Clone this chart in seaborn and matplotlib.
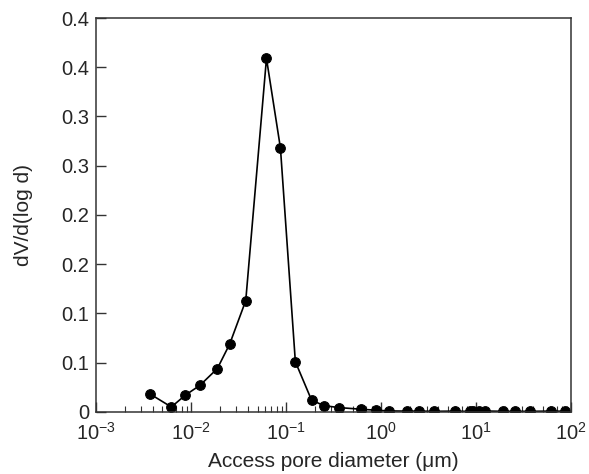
import numpy as np
import pandas as pd
import matplotlib
matplotlib.use('Agg')
import matplotlib.pyplot as plt
import seaborn as sns
from matplotlib.ticker import FixedLocator, FixedFormatter, LogLocator, NullFormatter

# pore diameter (um) and dV/d(log d)
diameter = [0.00373, 0.0062, 0.0087, 0.0124, 0.0189, 0.0255, 0.0376, 0.0621, 0.0871,
            0.125, 0.185, 0.249, 0.358, 0.617, 0.886, 1.22, 1.87, 2.49, 3.63, 5.96,
            8.5, 9.3, 10.7, 12.4, 19.1, 25.5, 36.6, 61.7, 85.1]
dvdlogd = [0.018, 0.005, 0.017, 0.027, 0.044, 0.069, 0.113, 0.359, 0.268,
           0.051, 0.012, 0.0064, 0.0044, 0.0027, 0.0017, 0.0010, 0.0008, 0.0008, 0.0006, 0.0008,
           0.0005, 0.0005, 0.0007, 0.0009, 0.0006, 0.0006, 0.0006, 0.0008, 0.0007]

y_ticks = [0, 0.05, 0.10, 0.15, 0.20, 0.25, 0.30, 0.35, 0.40]
y_tick_labels = ['0', '0.1', '0.1', '0.2', '0.2', '0.3', '0.3', '0.4', '0.4']
x_ticks = [1e-3, 1e-2, 1e-1, 1e0, 1e1, 1e2]
x_tick_labels = ['10$^{-3}$', '10$^{-2}$', '10$^{-1}$', '10$^{0}$', '10$^{1}$', '10$^{2}$']

sns.set_style('ticks')
plt.rcParams['font.family'] = ['Liberation Sans', 'DejaVu Sans']
plt.rcParams['mathtext.fontset'] = 'custom'
plt.rcParams['mathtext.rm'] = 'Liberation Sans'
plt.rcParams['mathtext.it'] = 'Liberation Sans'

df = pd.DataFrame({'d': diameter, 'v': dvdlogd})

fig = plt.figure(figsize=(5.89, 4.74), dpi=100)
ax = fig.add_axes([0.163, 0.131, 0.807, 0.831])

sns.lineplot(data=df, x='d', y='v', sort=False, color='black', linewidth=1.2,
             marker='o', markersize=7, markeredgecolor='black', ax=ax)

ax.set_xscale('log')
ax.set_xlim(1e-3, 1e2)
ax.set_ylim(0, 0.40)

ax.xaxis.set_major_locator(FixedLocator(x_ticks))
ax.xaxis.set_major_formatter(FixedFormatter(x_tick_labels))
ax.xaxis.set_minor_locator(LogLocator(base=10, subs=np.arange(2, 10)))
ax.xaxis.set_minor_formatter(NullFormatter())
ax.yaxis.set_major_locator(FixedLocator(y_ticks))
ax.yaxis.set_major_formatter(FixedFormatter(y_tick_labels))

ax.tick_params(axis='both', which='major', direction='in', length=7, width=1,
               labelsize=14.5, color='#333333', pad=5)
ax.tick_params(axis='x', which='minor', direction='in', length=4, width=0.8, color='#333333')
ax.tick_params(axis='x', which='major', pad=7)

for s in ax.spines.values():
    s.set_linewidth(1.1)
    s.set_color('#333333')
    s.set_visible(True)

ax.set_xlabel('Access pore diameter (μm)', fontsize=15, labelpad=6)
ax.set_ylabel('dV/d(log d)', fontsize=15, labelpad=20)

fig.savefig('out.png', dpi=100)
